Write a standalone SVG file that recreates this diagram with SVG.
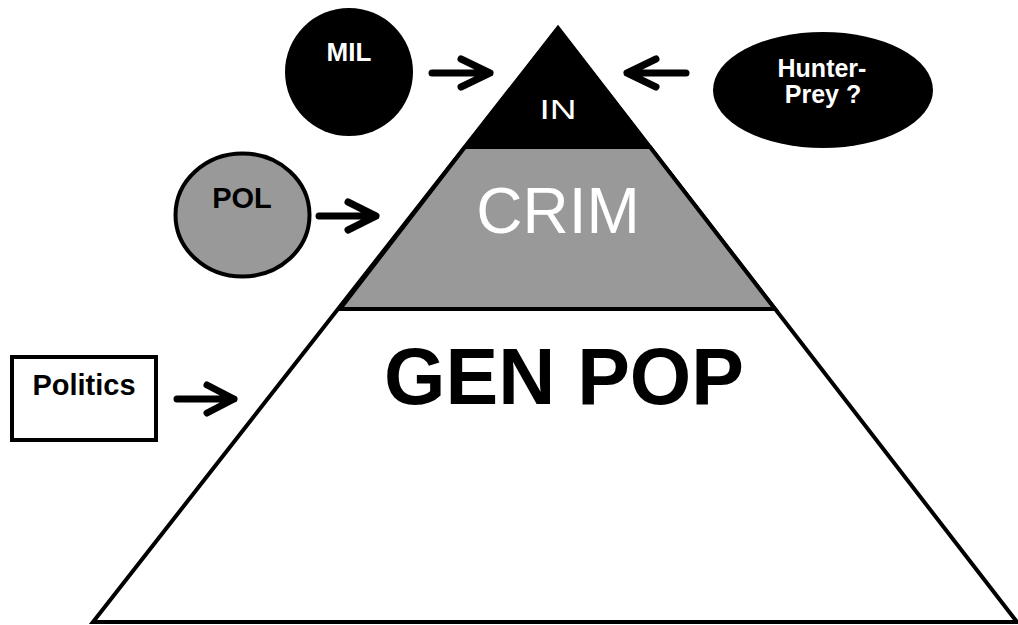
<svg xmlns="http://www.w3.org/2000/svg" width="1018" height="625" viewBox="0 0 1018 625">
  <defs>
    <style>
      .lbl { font-family: "Liberation Sans", Arial, sans-serif; text-anchor: middle; }
      .b { font-weight: bold; }
      .edge { stroke: #000; stroke-width: 4; stroke-linejoin: miter; }
      .arrow { fill: none; stroke: #000; stroke-width: 7; stroke-linecap: round; stroke-linejoin: round; }
    </style>
  </defs>
  <rect width="1018" height="625" fill="#fff"/>

  <!-- pyramid: base layer, middle band, top cap -->
  <g id="gen-pop">
    <polygon class="edge" fill="#fff" points="558,28 93,622 1017,622"/>
    <text class="lbl b" x="564" y="404" font-size="79">GEN POP</text>
  </g>
  <g id="crim">
    <polygon class="edge" fill="#999" points="465,147 650,147 775,309 340,309"/>
    <text class="lbl" x="558" y="233" font-size="64" fill="#fff">CRIM</text>
  </g>
  <g id="in">
    <polygon fill="#000" stroke="#000" stroke-width="3" points="558,28 465,147 650,147"/>
    <text class="lbl" x="558" y="119" font-size="27" fill="#fff" textLength="37" lengthAdjust="spacingAndGlyphs">IN</text>
  </g>

  <!-- outside influences -->
  <g id="mil">
    <ellipse cx="349" cy="72" rx="64" ry="64" fill="#000"/>
    <text class="lbl b" x="349" y="61" font-size="26" fill="#fff">MIL</text>
  </g>
  <g id="hunter-prey">
    <ellipse cx="823" cy="90" rx="110" ry="58" fill="#000"/>
    <text class="lbl b" x="822" y="77" font-size="25" fill="#fff">Hunter-</text>
    <text class="lbl b" x="823" y="103" font-size="25" fill="#fff">Prey ?</text>
  </g>
  <g id="pol">
    <ellipse cx="242.5" cy="215" rx="67" ry="61.5" fill="#999" stroke="#000" stroke-width="4"/>
    <text class="lbl b" x="242" y="208" font-size="29">POL</text>
  </g>
  <g id="politics">
    <rect x="12" y="357" width="144" height="83" fill="#fff" stroke="#000" stroke-width="4"/>
    <text class="lbl b" x="84" y="395" font-size="29">Politics</text>
  </g>

  <!-- connectors -->
  <g id="connectors">
    <path class="arrow" d="M432,73 H490 M461,59 L490,73 L461,87"/>
    <path class="arrow" d="M686,73 H627 M656,59 L627,73 L656,87"/>
    <path class="arrow" d="M319,216 H376 M348,202 L376,216 L348,230"/>
    <path class="arrow" d="M177,399 H234 M207,385 L234,399 L207,413"/>
  </g>
</svg>
